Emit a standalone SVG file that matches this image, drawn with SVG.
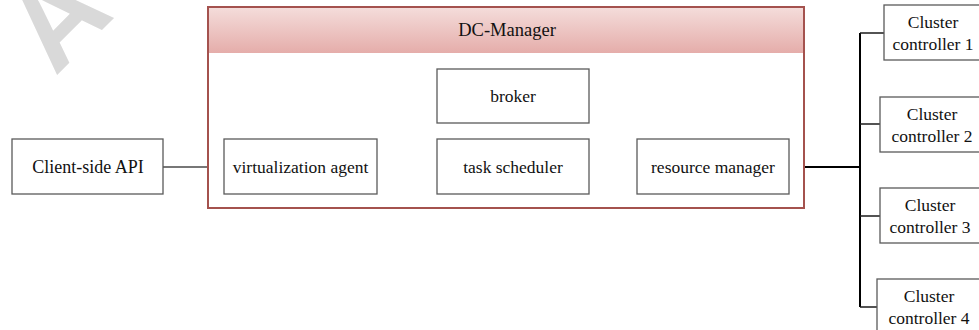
<svg xmlns="http://www.w3.org/2000/svg" width="979" height="330" viewBox="0 0 979 330">
  <defs>
    <linearGradient id="hdrGrad" x1="0" y1="0" x2="0" y2="1">
      <stop offset="0" stop-color="#f4dcda"/>
      <stop offset="1" stop-color="#e5adaa"/>
    </linearGradient>
  </defs>
  <style>
    .box { fill: #ffffff; stroke: #5a5a5a; stroke-width: 1.3; }
    .lbl { font-family: "Liberation Serif", "Times New Roman", serif; font-size: 17.5px; fill: #111111; text-anchor: middle; }
    .big { font-size: 18.5px; }
    .wire { stroke: #4a4a4a; stroke-width: 1.3; fill: none; }
    .bus { stroke: #000000; stroke-width: 2; fill: none; }
    .tap { stroke: #1a1a1a; stroke-width: 1.5; fill: none; }
    .mark { font-family: "Liberation Sans", Arial, sans-serif; font-weight: bold; font-size: 120px; fill: #d9d9d9; }
  </style>

  <!-- background watermark -->
  <text class="mark" transform="translate(55 77) rotate(-45)">AC</text>

  <!-- connectors -->
  <g id="connectors">
    <line class="wire" x1="163" y1="167" x2="224" y2="167"/>
    <line class="wire" x1="377" y1="167" x2="437" y2="167"/>
    <line class="wire" x1="589" y1="167" x2="637" y2="167"/>
    <line class="bus" x1="789" y1="167" x2="860" y2="167"/>
    <line class="bus" x1="860" y1="33" x2="860" y2="307"/>
    <line class="tap" x1="860" y1="33" x2="884" y2="33"/>
    <line class="tap" x1="860" y1="124" x2="880" y2="124"/>
    <line class="tap" x1="860" y1="216" x2="880" y2="216"/>
    <line class="tap" x1="860" y1="307" x2="877" y2="307"/>
  </g>

  <!-- DC-Manager container -->
  <g id="dc-manager">
    <rect x="208" y="7" width="596" height="201" fill="#ffffff" stroke="#a4524e" stroke-width="2"/>
    <rect x="209" y="8" width="594" height="45" fill="url(#hdrGrad)"/>
    <text class="lbl big" x="507" y="36">DC-Manager</text>
  </g>

  <g id="client-api">
    <rect class="box" x="12" y="139" width="151" height="55"/>
    <text class="lbl" x="88" y="173" style="font-size:18px">Client-side API</text>
  </g>

  <g id="broker">
    <rect class="box" x="437" y="69" width="152" height="54"/>
    <text class="lbl" x="513" y="102">broker</text>
  </g>

  <g id="virtualization-agent">
    <rect class="box" x="224" y="139" width="153" height="55"/>
    <text class="lbl" x="300.5" y="173">virtualization agent</text>
  </g>

  <g id="task-scheduler">
    <rect class="box" x="437" y="139" width="152" height="55"/>
    <text class="lbl" x="513" y="173">task scheduler</text>
  </g>

  <g id="resource-manager">
    <rect class="box" x="637" y="139" width="152" height="55"/>
    <text class="lbl" x="713" y="173">resource manager</text>
  </g>

  <g id="cluster-controller-1">
    <rect class="box" x="884" y="5" width="100" height="55"/>
    <text class="lbl" x="933" y="28">Cluster</text>
    <text class="lbl" x="933" y="50">controller 1</text>
  </g>

  <g id="cluster-controller-2">
    <rect class="box" x="880" y="97" width="104" height="55"/>
    <text class="lbl" x="932" y="120">Cluster</text>
    <text class="lbl" x="932" y="142">controller 2</text>
  </g>

  <g id="cluster-controller-3">
    <rect class="box" x="880" y="188" width="104" height="55"/>
    <text class="lbl" x="930" y="211">Cluster</text>
    <text class="lbl" x="930" y="233">controller 3</text>
  </g>

  <g id="cluster-controller-4">
    <rect class="box" x="877" y="279" width="106" height="60"/>
    <text class="lbl" x="929" y="302">Cluster</text>
    <text class="lbl" x="929" y="324">controller 4</text>
  </g>
</svg>
